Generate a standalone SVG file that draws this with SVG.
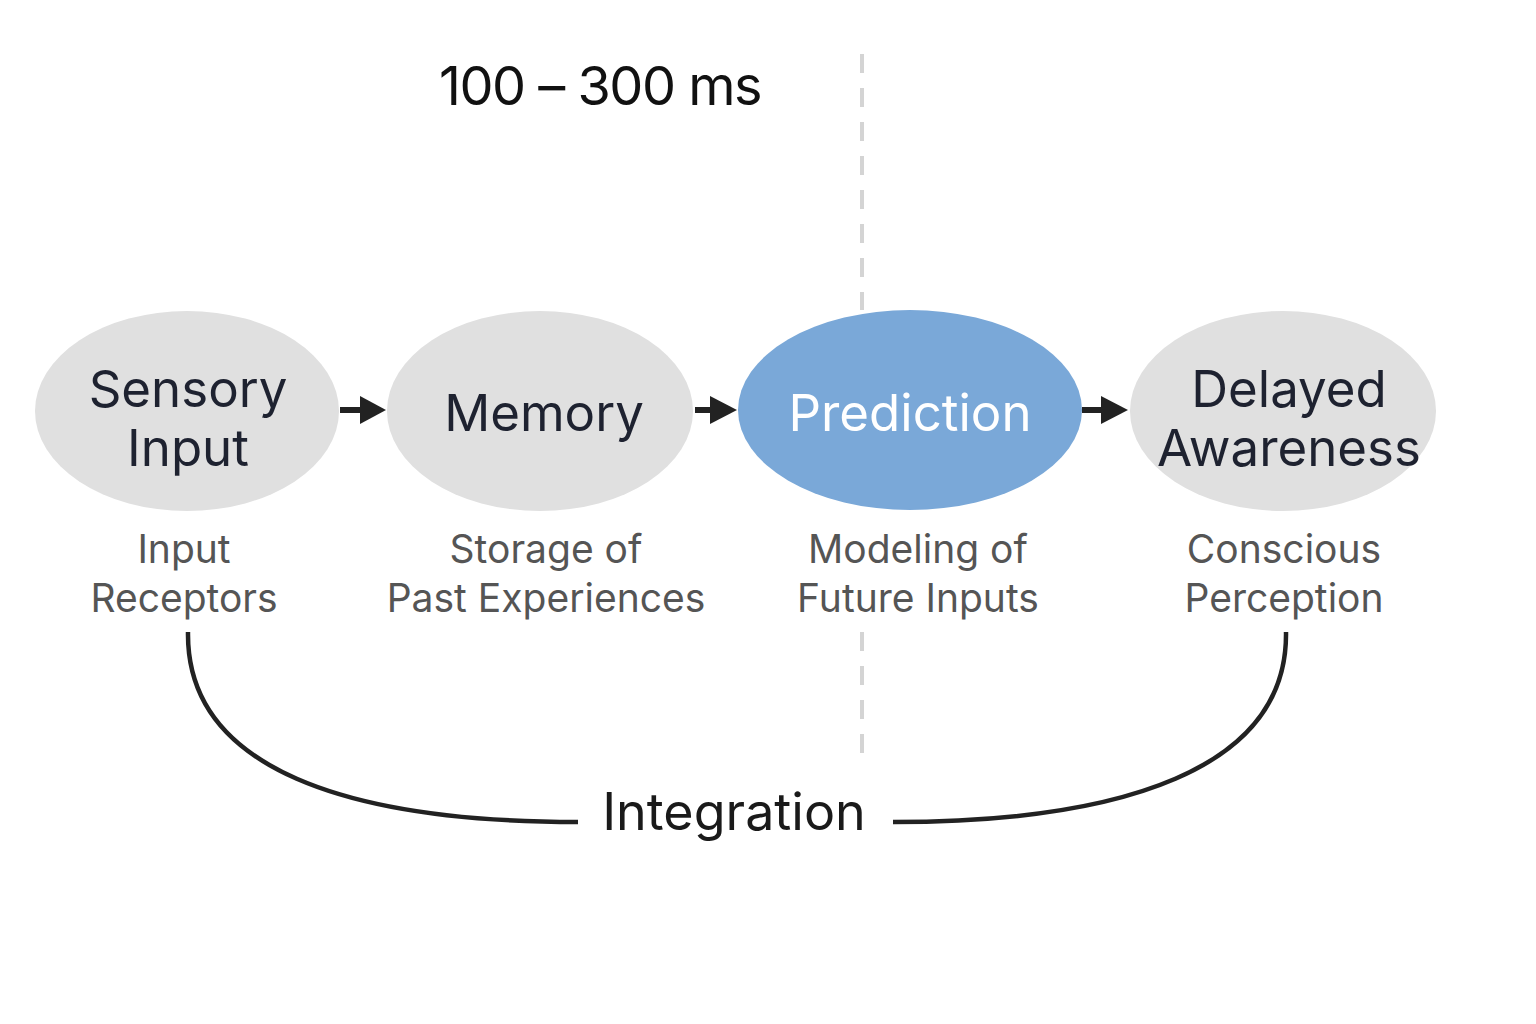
<svg xmlns="http://www.w3.org/2000/svg" width="1536" height="1024" viewBox="0 0 1536 1024">
<style>
.t{font-family:Inter,"Noto Sans","Liberation Sans",sans-serif;text-anchor:middle}
.node{fill:#e0e0e0}
.main{font-size:51px;fill:#1e2230}
.sub{font-size:39px;fill:#555555}
.arrow{stroke:#222;stroke-width:6;fill:none}
.head{fill:#222}
.curve{stroke:#222;stroke-width:4.5;fill:none}
.dash{stroke:#d4d4d4;stroke-width:4;stroke-dasharray:19 15}
</style>
<rect width="1536" height="1024" fill="#ffffff"/>
<g id="divider">
<line class="dash" x1="862" y1="54" x2="862" y2="310"/>
<line class="dash" x1="862" y1="632" x2="862" y2="756"/>
</g>
<text id="timing" class="t" x="600" y="105" font-size="54" letter-spacing="-1.5" fill="#111">100 – 300 ms</text>
<g id="connectors">
<line class="arrow" x1="340" y1="410" x2="364" y2="410"/>
<polygon class="head" points="360,396 386,410 360,424"/>
<line class="arrow" x1="695" y1="410" x2="714" y2="410"/>
<polygon class="head" points="710,396 737,410 710,424"/>
<line class="arrow" x1="1082" y1="410" x2="1105" y2="410"/>
<polygon class="head" points="1101,396 1128,410 1101,424"/>
<path class="curve" d="M188,632 C186,770 350,822 578,822"/>
<path class="curve" d="M1286,632 C1288,770 1120,822 893,822"/>
</g>
<g id="sensory">
<ellipse class="node" cx="187" cy="411" rx="152" ry="100"/>
<text class="t main" x="188" y="407">Sensory</text>
<text class="t main" x="188" y="466">Input</text>
<text class="t sub" x="184" y="563">Input</text>
<text class="t sub" x="184" y="612">Receptors</text>
</g>
<g id="memory">
<ellipse class="node" cx="540" cy="411" rx="153" ry="100"/>
<text class="t main" x="544" y="431">Memory</text>
<text class="t sub" x="546" y="563">Storage of</text>
<text class="t sub" x="546" y="612">Past Experiences</text>
</g>
<g id="prediction">
<ellipse cx="910" cy="410" rx="172" ry="100" fill="#7aa8d8"/>
<text class="t main" x="910" y="431" style="fill:#ffffff">Prediction</text>
<text class="t sub" x="918" y="563">Modeling of</text>
<text class="t sub" x="918" y="612">Future Inputs</text>
</g>
<g id="awareness">
<ellipse class="node" cx="1283" cy="411" rx="153" ry="100"/>
<text class="t main" x="1289" y="407">Delayed</text>
<text class="t main" x="1289" y="466">Awareness</text>
<text class="t sub" x="1284" y="563">Conscious</text>
<text class="t sub" x="1284" y="612">Perception</text>
</g>
<text id="integration" class="t" x="734" y="830" font-size="52" fill="#1a1a1a">Integration</text>
</svg>
